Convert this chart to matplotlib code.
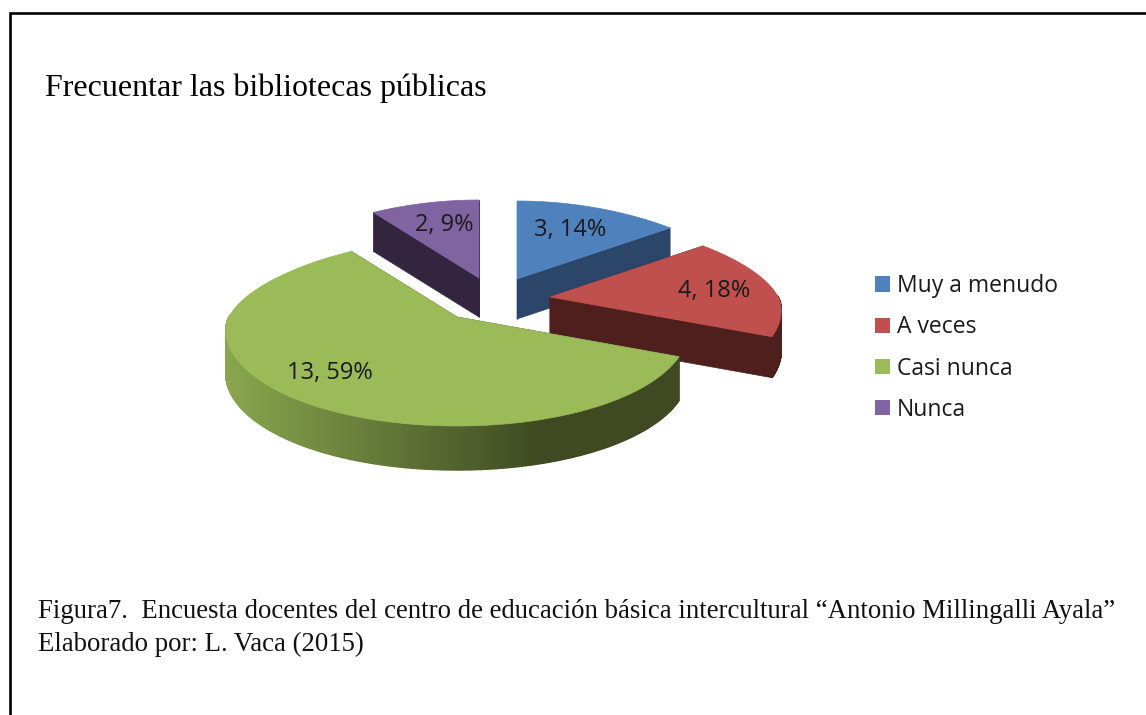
import numpy as np
import matplotlib
matplotlib.use("Agg")
from matplotlib import pyplot as plt
from matplotlib.patches import Patch
from matplotlib.colors import to_rgb

# datos
categorias = ["Muy a menudo", "A veces", "Casi nunca", "Nunca"]
valores = [3, 4, 13, 2]
porcentajes = [14, 18, 59, 9]

titulo = "Frecuentar las bibliotecas públicas"
pie_1 = "Figura7.  Encuesta docentes del centro de educación básica intercultural “Antonio Millingalli Ayala”"
pie_2 = "Elaborado por: L. Vaca (2015)"

# estilo
col_top = ["#4F81BD", "#C0504D", "#9BBB59", "#8064A2"]
col_side = ["#2B4669", "#4F1F1E", "#3F4A22", "#33253F"]
apices = [(517, 279), (550, 297), (457, 317), (479, 278)]
alturas = [40, 41, 44, 39]
pos_etiquetas = [(570, 230), (714, 291), (330, 373), (444, 225)]
RX, RY_BACK, RY_FRONT, K = 228, 78, 109, 0.17


def rim(ap, ang):
    # angulo desde arriba, sentido horario, con perspectiva simple
    u, v = np.sin(ang), -np.cos(ang)
    x = ap[0] + RX * u * (1 + K * v)
    y = ap[1] + np.where(v > 0, RY_FRONT * np.abs(v) ** 1.15, RY_BACK * v)
    return x, y


fig = plt.figure(figsize=(11.46, 7.15), dpi=100)
ax = fig.add_axes([0, 0, 1, 1])
ax.set_xlim(0, 1146)
ax.set_ylim(715, 0)
ax.axis("off")

# marco
ax.plot([9.5, 9.5, 1146], [715, 12.5, 12.5], color="black", lw=1.9, solid_joinstyle="miter")

limites = np.cumsum([0] + valores) / sum(valores) * 2 * np.pi
for i in [3, 0, 1, 2]:
    ap = apices[i]
    h = alturas[i]
    ang = np.linspace(limites[i], limites[i + 1], 300)
    xr, yr = rim(ap, ang)
    # caras de corte
    for j in [0, -1]:
        ax.fill([ap[0], xr[j], xr[j], ap[0]],
                [ap[1], yr[j], yr[j] + h, ap[1] + h],
                color=col_side[i], lw=0.5)
    # borde curvo, el verde lleva degradado
    for k in range(len(ang) - 1):
        if np.cos(ang[k]) > 0.02:
            continue
        c = np.array(to_rgb(col_side[i]))
        if i == 2:
            t = np.clip((540 - xr[k]) / (540 - 222), 0, 1)
            c = c + t * (np.array(to_rgb("#8AA84F")) - c)
        ax.fill([xr[k], xr[k + 1], xr[k + 1], xr[k]],
                [yr[k], yr[k + 1], yr[k + 1] + h, yr[k] + h],
                color=c, lw=1)
    ax.fill(np.r_[ap[0], xr], np.r_[ap[1], yr], color=col_top[i], lw=0.5)

for i in range(len(valores)):
    ax.text(pos_etiquetas[i][0], pos_etiquetas[i][1], f"{valores[i]}, {porcentajes[i]}%",
            family="Open Sans", fontsize=17, color="#1a1a1a", ha="center", va="center")

handles = [Patch(facecolor=c, edgecolor="none") for c in col_top]
ax.legend(handles, categorias, loc="center left", bbox_to_anchor=(854, 348),
          bbox_transform=ax.transData, frameon=False,
          prop={"family": "Open Sans", "size": 16.5}, labelspacing=0.75,
          handlelength=0.66, handleheight=0.66, handletextpad=0.3, labelcolor="#1a1a1a")

ax.text(45, 88, titulo, family="Liberation Serif", fontsize=23, color="black", va="center")
ax.text(38, 612, pie_1, family="Liberation Serif", fontsize=19.3, color="#111111", va="center")
ax.text(38, 644, pie_2, family="Liberation Serif", fontsize=19.3, color="#111111", va="center")

fig.savefig("out.png", dpi=100)
